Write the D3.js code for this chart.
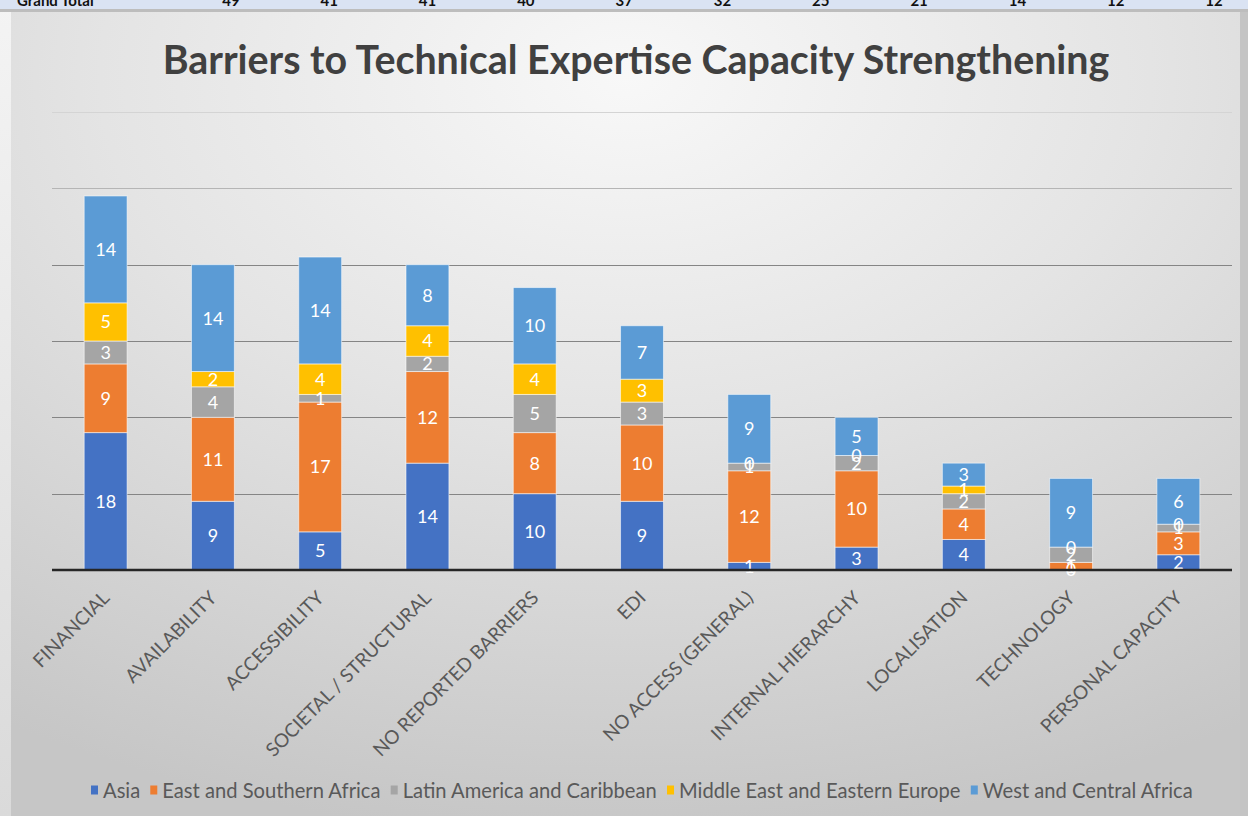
<!DOCTYPE html>
<html>
<head>
<meta charset="utf-8">
<script src="https://cdn.jsdelivr.net/npm/d3@7"></script>
<style>
  html, body { margin: 0; padding: 0; background: #ffffff; }
  svg { display: block; }
</style>
</head>
<body>
<svg id="chart" width="1248" height="816"></svg>
<script>
// Barrier categories (x axis)
const categories = [
  "FINANCIAL", "AVAILABILITY", "ACCESSIBILITY", "SOCIETAL / STRUCTURAL",
  "NO REPORTED BARRIERS", "EDI", "NO ACCESS (GENERAL)", "INTERNAL HIERARCHY",
  "LOCALISATION", "TECHNOLOGY", "PERSONAL CAPACITY"
];

// Counts per region, one value per category
const asia                 = [18, 9,  5, 14, 10,  9,  1,  3, 4, 0, 2];
const eastSouthernAfrica   = [ 9, 11, 17, 12, 8, 10, 12, 10, 4, 1, 3];
const latinAmericaCaribbean= [ 3, 4,  1,  2,  5,  3,  1,  2, 2, 2, 1];
const middleEastEurope     = [ 5, 2,  4,  4,  4,  3,  0,  0, 1, 0, 0];
const westCentralAfrica    = [14, 14, 14, 8, 10,  7,  9,  5, 3, 9, 6];

// Region names and colours
const seriesNames = [
  "Asia", "East and Southern Africa", "Latin America and Caribbean",
  "Middle East and Eastern Europe", "West and Central Africa"
];
const seriesColors = ["#4472C4", "#ED7D31", "#A5A5A5", "#FFC000", "#5B9BD5"];

// Grand total row of the summary table above the chart
const tableRowLabel = "Grand Total";
const tableTotals = [49, 41, 41, 40, 37, 32, 25, 21, 14, 12, 12];

// Value axis
const yMax = 60;
const yTicks = [10, 20, 30, 40, 50, 60];

const title = "Barriers to Technical Expertise Capacity Strengthening";

const seriesValues = [asia, eastSouthernAfrica, latinAmericaCaribbean, middleEastEurope, westCentralAfrica];
const rows = categories.map((c, i) => {
  const r = { category: c };
  seriesNames.forEach((s, k) => { r[s] = seriesValues[k][i]; });
  return r;
});

const W = 1248, H = 816;
const svg = d3.select("#chart");
const defs = svg.append("defs");

// Chart background: radial grey fill, light at the top centre
const rg = defs.append("radialGradient").attr("id", "bg")
  .attr("cx", 0.5).attr("cy", 0.08).attr("r", 0.95).attr("fx", 0.5).attr("fy", 0.08);
rg.append("stop").attr("offset", 0).attr("stop-color", "#f8f8f8");
rg.append("stop").attr("offset", 0.45).attr("stop-color", "#e4e4e4");
rg.append("stop").attr("offset", 1).attr("stop-color", "#c6c6c6");

const lg = defs.append("linearGradient").attr("id", "side").attr("x1", 0).attr("y1", 0).attr("x2", 0).attr("y2", 1);
lg.append("stop").attr("offset", 0).attr("stop-color", "#f4f4f4");
lg.append("stop").attr("offset", 1).attr("stop-color", "#dadada");

// Sheet behind the chart
svg.append("rect").attr("x", 0).attr("y", 0).attr("width", W).attr("height", H).attr("fill", "url(#side)");
svg.append("rect").attr("x", 1240).attr("y", 10).attr("width", 8).attr("height", H).attr("fill", "#c4c4c4");

// Summary table row (cut by the top edge)
svg.append("rect").attr("x", 0).attr("y", 0).attr("width", W).attr("height", 9).attr("fill", "#dae3f3");
svg.append("rect").attr("x", 0).attr("y", 9).attr("width", W).attr("height", 3).attr("fill", "#bdbdbd");

// Chart area
svg.append("rect").attr("x", 11).attr("y", 12).attr("width", 1229).attr("height", H - 12).attr("fill", "url(#bg)");

const plot = { left: 52, right: 1232, top: 112, bottom: 570 };

const x = d3.scaleBand().domain(categories)
  .range([plot.left, plot.right]).paddingInner(0.6).paddingOuter(0.3);
const y = d3.scaleLinear().domain([0, yMax]).range([plot.bottom, plot.top]);

// Table row text, positioned over the category columns
const tableG = svg.append("g").attr("font-family", "Lato, 'Open Sans', sans-serif")
  .attr("font-weight", "bold").attr("font-size", 15).attr("fill", "#111");
tableG.append("text").attr("x", 17).attr("y", 6).text(tableRowLabel);
tableG.selectAll("text.tot").data(tableTotals).join("text").attr("class", "tot")
  .attr("x", (d, i) => {
    const c = x(categories[i]) + x.bandwidth() / 2;
    return 231 + (c - 105.7) * ((1214 - 231) / (1178.3 - 105.7));
  })
  .attr("y", 6).attr("text-anchor", "middle").text(d => d);

// Gridlines
const gridColor = v => v <= 40 ? "#858585" : (v === 50 ? "#b5b5b5" : "#d4d4d4");
svg.append("g").selectAll("line").data(yTicks).join("line")
  .attr("x1", plot.left).attr("x2", plot.right)
  .attr("y1", d => Math.round(y(d)) + 0.5).attr("y2", d => Math.round(y(d)) + 0.5)
  .attr("stroke", d => gridColor(d)).attr("stroke-width", 1);

// Title
const titleText = svg.append("text")
  .attr("x", 636).attr("y", 74).attr("text-anchor", "middle")
  .attr("font-family", "Lato, 'Open Sans', sans-serif").attr("font-weight", "bold")
  .attr("font-size", 34).attr("fill", "#404040").text(title);
{
  const len = titleText.node().getComputedTextLength();
  titleText.attr("font-size", 34 * 947 / len);
}

// Stacked bars
const stack = d3.stack().keys(seriesNames);
const stacked = stack(rows);

const barsG = svg.append("g");
stacked.forEach((layer, k) => {
  const g = barsG.append("g").attr("fill", seriesColors[k]);
  g.selectAll("rect").data(layer).join("rect")
    .attr("x", d => x(d.data.category))
    .attr("width", x.bandwidth())
    .attr("y", d => y(d[1]))
    .attr("height", d => Math.max(0, y(d[0]) - y(d[1])))
    .attr("stroke", "#ffffff").attr("stroke-opacity", 0.55).attr("stroke-width", 1);
});

// Data labels at the centre of each segment
stacked.forEach((layer, k) => {
  svg.append("g").selectAll("text").data(layer).join("text")
    .attr("x", d => x(d.data.category) + x.bandwidth() / 2)
    .attr("y", d => (y(d[0]) + y(d[1])) / 2)
    .attr("dy", "0.36em")
    .attr("text-anchor", "middle")
    .attr("font-family", "Lato, 'Open Sans', sans-serif")
    .attr("font-size", 18).attr("fill", "#ffffff")
    .text(d => d.data[seriesNames[k]]);
});

// Category axis baseline
svg.append("line").attr("x1", plot.left).attr("x2", plot.right)
  .attr("y1", plot.bottom).attr("y2", plot.bottom)
  .attr("stroke", "#262626").attr("stroke-width", 2.5);

// Rotated category labels
const xAxis = d3.axisBottom(x).tickSize(0).tickPadding(0);
const axG = svg.append("g").attr("transform", `translate(0,${plot.bottom})`).call(xAxis);
axG.select(".domain").remove();
axG.selectAll(".tick text")
  .attr("font-family", "Lato, 'Open Sans', sans-serif").attr("font-size", 19)
  .attr("fill", "#595959")
  .attr("text-anchor", "end")
  .attr("dy", 0)
  .attr("transform", "translate(5,29) rotate(-45)");

// Legend laid out in one row
const legendG = svg.append("g").attr("font-family", "Lato, 'Open Sans', sans-serif")
  .attr("fill", "#595959");
const legendFont = 16;
const sq = 7, gapSqText = 5, gapItems = 10;
const items = legendG.selectAll("g").data(seriesNames).join("g");
items.append("rect").attr("width", sq).attr("height", 9).attr("y", -5.5)
  .attr("fill", (d, i) => seriesColors[i]);
items.append("text").attr("x", sq + gapSqText).attr("dy", "0.35em")
  .attr("font-size", legendFont).text(d => d);
{
  const widths = items.nodes().map(n => d3.select(n).select("text").node().getComputedTextLength());
  const target = 1102;
  const raw = d3.sum(widths) + seriesNames.length * (sq + gapSqText) + (seriesNames.length - 1) * gapItems;
  const textScale = (target - (raw - d3.sum(widths))) / d3.sum(widths);
  items.select("text").attr("font-size", legendFont * textScale);
  const w2 = widths.map(w => w * textScale);
  let cx = 91;
  items.attr("transform", (d, i) => {
    const t = `translate(${cx},791)`;
    cx += sq + gapSqText + w2[i] + gapItems;
    return t;
  });
}
</script>
</body>
</html>
